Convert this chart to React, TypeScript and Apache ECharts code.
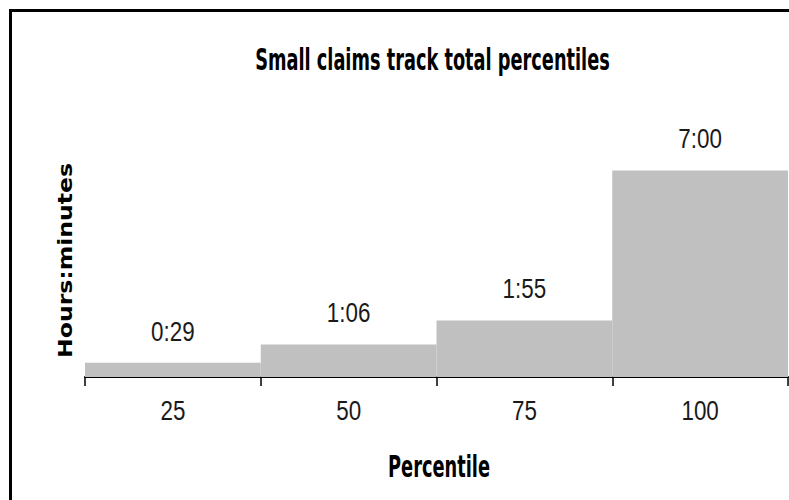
import React, { useEffect, useRef } from "react";
import * as echarts from "echarts";

const categories = ["25", "50", "75", "100"];
const minutesValues = [29, 66, 115, 420];
const titleText = "Small claims track total percentiles";
const xName = "Percentile";
const yName = "Hours:minutes";

const NARROW = '"DejaVu Sans Condensed", "Liberation Sans", sans-serif';
const PLAIN = '"Liberation Sans", Arial, sans-serif';
const WIDE = '"DejaVu Sans", Verdana, sans-serif';

function measure(text: string, font: string): number {
  const c = document.createElement("canvas");
  const ctx = c.getContext("2d");
  if (!ctx) return 1;
  ctx.font = font;
  return ctx.measureText(text).width || 1;
}

function fmt(v: number): string {
  const h = Math.floor(v / 60);
  const m = v % 60;
  return `${h}:${m < 10 ? "0" + m : m}`;
}

export default function App() {
  const ref = useRef<HTMLDivElement>(null);
  useEffect(() => {
    document.body.style.margin = "0";
    if (!ref.current) return;
    const chart = echarts.init(ref.current, null, { renderer: "svg" });

    const titleSize = 31;
    const titleW = measure(titleText, `bold ${titleSize}px ${NARROW}`);
    const titleScale = 355 / titleW;
    const xNameW = measure(xName, `bold ${titleSize}px ${NARROW}`);
    const xNameScale = 102 / xNameW;
    const ySize = 20;
    const yNameW = measure(yName, `bold ${ySize}px ${WIDE}`);
    const yNameScale = 195 / yNameW;
    const numSize = 28;
    const numScale = 0.8;

    chart.setOption({
      animation: false,
      backgroundColor: "#ffffff",
      grid: { left: 85, right: 1, top: 141, bottom: 123, containLabel: false },
      xAxis: {
        type: "category",
        data: categories,
        axisLine: { show: true, lineStyle: { color: "#000", width: 2 } },
        axisTick: { show: true, alignWithLabel: false, length: 9, lineStyle: { color: "#000", width: 1.5 } },
        axisLabel: { show: false },
        splitLine: { show: false },
      },
      yAxis: { type: "value", min: 0, max: 480, show: false },
      series: [
        {
          type: "bar",
          data: minutesValues,
          barCategoryGap: "0%",
          itemStyle: { color: "#c0c0c0" },
        },
      ],
    });

    const numText = (text: string, x: number, y: number) => ({
      type: "text",
      x,
      y,
      scaleX: numScale,
      style: {
        text,
        fontSize: numSize,
        fontFamily: PLAIN,
        fill: "#1a1a1a",
        align: "center",
        verticalAlign: "middle",
      },
    });

    const dynamic: any[] = [];
    categories.forEach((c, i) => {
      const top = chart.convertToPixel({ seriesIndex: 0 }, [i, minutesValues[i]]) as number[];
      dynamic.push(numText(fmt(minutesValues[i]), top[0], top[1] - 32));
      const px = chart.convertToPixel({ xAxisIndex: 0 }, i) as number;
      dynamic.push(numText(c, px, 410));
    });

    chart.setOption({
      graphic: [
        {
          type: "rect",
          shape: { x: 10.5, y: 10.5, width: 820, height: 540 },
          style: { fill: "none", stroke: "#000", lineWidth: 3 },
          z: 100,
        },
        {
          type: "text",
          x: 432.5,
          y: 59,
          scaleX: titleScale,
          style: {
            text: titleText,
            fontSize: titleSize,
            fontWeight: "bold",
            fontFamily: NARROW,
            fill: "#000",
            align: "center",
            verticalAlign: "middle",
          },
        },
        {
          type: "text",
          x: 439,
          y: 466,
          scaleX: xNameScale,
          style: {
            text: xName,
            fontSize: titleSize,
            fontWeight: "bold",
            fontFamily: NARROW,
            fill: "#000",
            align: "center",
            verticalAlign: "middle",
          },
        },
        {
          type: "text",
          x: 65.5,
          y: 260.5,
          rotation: Math.PI / 2,
          scaleX: yNameScale,
          style: {
            text: yName,
            fontSize: ySize,
            fontWeight: "bold",
            fontFamily: WIDE,
            fill: "#000",
            align: "center",
            verticalAlign: "middle",
          },
        },
        ...dynamic,
      ],
    });
    return () => chart.dispose();
  }, []);
  return <div ref={ref} style={{ width: 789, height: 500 }} />;
}
